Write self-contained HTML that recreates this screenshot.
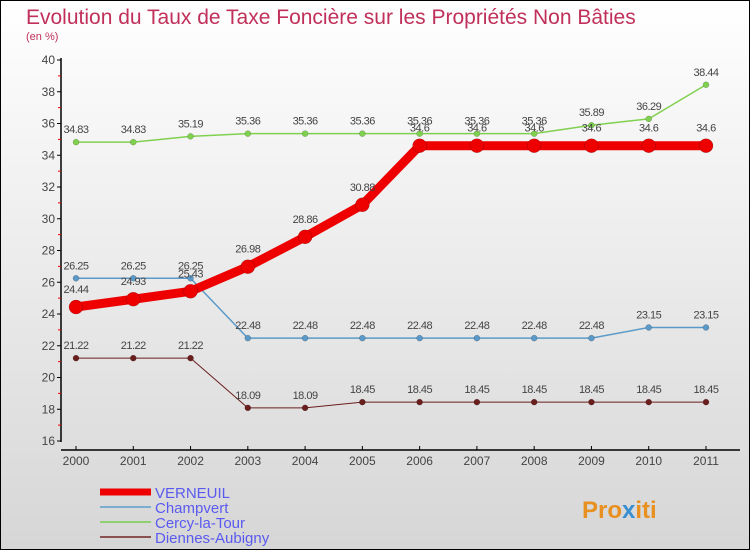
<!DOCTYPE html>
<html><head><meta charset="utf-8"><style>
body{margin:0;}
#wrap{width:750px;height:550px;position:relative;overflow:hidden;font-family:"Liberation Sans",sans-serif;}
svg text{font-family:"Liberation Sans",sans-serif;}
</style></head><body>
<div id="wrap">
<svg id="chart" width="750" height="550" xmlns="http://www.w3.org/2000/svg">
<defs><linearGradient id="bg" x1="0" y1="0" x2="0" y2="1"><stop offset="0" stop-color="#ffffff"/><stop offset="1" stop-color="#d6d6d6"/></linearGradient></defs>
<rect x="0.5" y="0.5" width="749" height="549" fill="url(#bg)" stroke="#000"/>
<text x="26" y="24" font-size="21" fill="#c0305a">Evolution du Taux de Taxe Foncière sur les Propriétés Non Bâties</text>
<text x="26" y="40" font-size="11" fill="#c0305a">(en %)</text>
<g id="axes"></g>
<g id="series"></g>
<g id="legend"></g>
<text x="582" y="518" font-size="24" font-weight="bold" fill="#e89020">Pro<tspan fill="#3a8fd0">x</tspan>iti</text>
</svg>
</div>
<script>
const years=[2000,2001,2002,2003,2004,2005,2006,2007,2008,2009,2010,2011];
const yTicks=[16,18,20,22,24,26,28,30,32,34,36,38,40];
const verneuil=[24.44,24.93,25.43,26.98,28.86,30.88,34.6,34.6,34.6,34.6,34.6,34.6];
const champvert=[26.25,26.25,26.25,22.48,22.48,22.48,22.48,22.48,22.48,22.48,23.15,23.15];
const cercy=[34.83,34.83,35.19,35.36,35.36,35.36,35.36,35.36,35.36,35.89,36.29,38.44];
const diennes=[21.22,21.22,21.22,18.09,18.09,18.45,18.45,18.45,18.45,18.45,18.45,18.45];
const NS="http://www.w3.org/2000/svg";
const x=i=>76+i*(630/11);
const y=v=>441-(v-16)*(381/24);
function mk(tag,attrs,parent,txt){const e=document.createElementNS(NS,tag);for(const k in attrs)e.setAttribute(k,attrs[k]);if(txt!==undefined)e.textContent=txt;parent.appendChild(e);return e;}
const axes=document.getElementById('axes');
let el=mk('line',{x1:61,y1:58,x2:61,y2:442,stroke:'#000','stroke-width':1.5},axes);


el=mk('line',{x1:61,y1:450,x2:740,y2:450,stroke:'#000','stroke-width':1.5},axes);


yTicks.forEach((t,i)=>{
  mk('line',{x1:57,y1:y(t),x2:61,y2:y(t),stroke:'#000'},axes);
  if(i<yTicks.length-1)mk('line',{x1:58,y1:y(t+1),x2:61,y2:y(t+1),stroke:'#e00'},axes);
  const tx=mk('text',{x:55,y:y(t)+4,'font-size':12,fill:'#444','text-anchor':'end'},axes,t);
  
  
});
years.forEach((yr,i)=>{
  mk('line',{x1:x(i),y1:446,x2:x(i),y2:450,stroke:'#000'},axes);
  const tx=mk('text',{x:x(i),y:465,'font-size':12,fill:'#444','text-anchor':'middle'},axes,yr);
  
  
});
const sg=document.getElementById('series');
function series(data,color,w,r,name,labOff){
  const g=mk('g',{},sg);
  
  
  const p=mk('polyline',{points:data.map((v,i)=>x(i)+','+y(v)).join(' '),fill:'none',stroke:color,'stroke-width':w,'stroke-linejoin':'round'},g);
  
  
  data.forEach((v,i)=>{
    const c=mk('circle',{cx:x(i),cy:y(v),r:r,fill:color,stroke:'rgba(0,0,0,0.3)','stroke-width':0.5},g);
    
    
    const t=mk('text',{x:x(i),y:y(v)+labOff,'font-size':11,fill:'#444','text-anchor':'middle','letter-spacing':'-0.5'},g,v);
    
    
  });
}
series(diennes,'#6b1e1e',1,3,'diennes-aubigny',-9);
series(champvert,'#5b9ac8',1.5,3,'champvert',-9);
series(cercy,'#80d050',1.5,3,'cercy-la-tour',-9);
series(verneuil,'#ee0000',9,7,'verneuil',-14);
const lg=document.getElementById('legend');
const items=[['VERNEUIL','#ee0000',7],['Champvert','#7aaed0',2],['Cercy-la-Tour','#90d070',2],['Diennes-Aubigny','#8b5050',2]];
items.forEach((it,i)=>{
  const yy=492+i*15;
  const l=mk('line',{x1:100,y1:yy,x2:151,y2:yy,stroke:it[1],'stroke-width':it[2]},lg);
  
  
  const t=mk('text',{x:155,y:yy+6,'font-size':15,fill:'#5a5af0'},lg,it[0]);
  
  
});
</script>
</body></html>
